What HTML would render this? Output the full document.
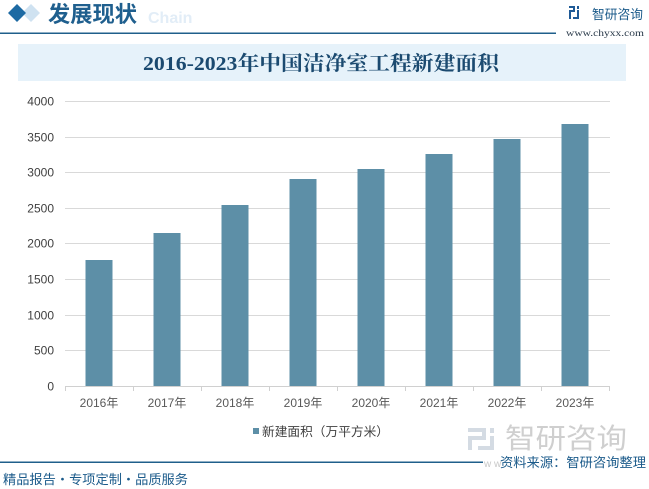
<!DOCTYPE html>
<html><head><meta charset="utf-8"><style>
html,body{margin:0;padding:0;background:#fff;}
svg{display:block;}
</style></head><body>
<svg width="649" height="489" viewBox="0 0 649 489" xmlns="http://www.w3.org/2000/svg">
<rect width="649" height="489" fill="#fff"/>
<!-- header -->
<polygon points="31,4 40,13 31,22 22,13" fill="#cfe2f1"/>
<polygon points="17,4 26,13 17,22 8,13" fill="#1d6aa3"/>
<text x="148" y="23" font-family="Liberation Sans, sans-serif" font-weight="bold" font-size="16" fill="#e2edf7">Chain</text>
<text x="48" y="22" font-family="'Liberation Sans','Noto Sans CJK SC',sans-serif" font-weight="bold" font-size="22" fill="#1f5f8e" textLength="89" lengthAdjust="spacingAndGlyphs">发展现状</text>
<rect x="0" y="32.5" width="556" height="1.5" fill="#1f5f8b"/>
<!-- logo -->
<g fill="#1f5a96">
<rect x="569" y="6" width="6" height="2"/><rect x="573" y="6" width="2" height="6"/><rect x="569" y="10" width="6" height="2"/><rect x="569" y="10" width="2" height="9"/>
<rect x="577" y="6" width="2" height="3"/><rect x="577" y="10" width="2" height="9"/><rect x="573" y="17" width="6" height="2"/>
</g>
<text x="592" y="19" font-family="'Liberation Sans','Noto Sans CJK SC',sans-serif" font-size="13" fill="#1a5a8a" textLength="51" lengthAdjust="spacingAndGlyphs">智研咨询</text>
<text x="566" y="36" font-family="'Liberation Serif',serif" font-size="9" fill="#2a3a4a" textLength="78" lengthAdjust="spacingAndGlyphs">www.chyxx.com</text>
<!-- title box -->
<rect x="18" y="44" width="608" height="37" fill="#e6f2fa"/>
<text x="321" y="70" text-anchor="middle" font-family="'Liberation Serif','Noto Serif CJK SC',serif" font-weight="bold" font-size="20" fill="#1b4a70" textLength="356" lengthAdjust="spacingAndGlyphs">2016-2023年中国洁净室工程新建面积</text>
<!-- gridlines -->
<g stroke="#d9d9d9" stroke-width="1">
<line x1="65" y1="101.5" x2="610" y2="101.5"/>
<line x1="65" y1="137.5" x2="610" y2="137.5"/>
<line x1="65" y1="172.5" x2="610" y2="172.5"/>
<line x1="65" y1="208.5" x2="610" y2="208.5"/>
<line x1="65" y1="243.5" x2="610" y2="243.5"/>
<line x1="65" y1="279.5" x2="610" y2="279.5"/>
<line x1="65" y1="315.5" x2="610" y2="315.5"/>
<line x1="65" y1="350.5" x2="610" y2="350.5"/>
</g>
<!-- bars -->
<g fill="#5d8fa7">
<rect x="85.5" y="260" width="27" height="126"/>
<rect x="153.5" y="233" width="27" height="153"/>
<rect x="221.5" y="205" width="27" height="181"/>
<rect x="289.5" y="179" width="27" height="207"/>
<rect x="357.5" y="169" width="27" height="217"/>
<rect x="425.5" y="154" width="27" height="232"/>
<rect x="493.5" y="139" width="27" height="247"/>
<rect x="561.5" y="124" width="27" height="262"/>
</g>
<!-- axis -->
<g stroke="#d0d0d0" stroke-width="1">
<line x1="65" y1="386.5" x2="610" y2="386.5"/>
<line x1="65.5" y1="386" x2="65.5" y2="391"/>
<line x1="133.5" y1="386" x2="133.5" y2="391"/>
<line x1="201.5" y1="386" x2="201.5" y2="391"/>
<line x1="269.5" y1="386" x2="269.5" y2="391"/>
<line x1="337.5" y1="386" x2="337.5" y2="391"/>
<line x1="405.5" y1="386" x2="405.5" y2="391"/>
<line x1="473.5" y1="386" x2="473.5" y2="391"/>
<line x1="541.5" y1="386" x2="541.5" y2="391"/>
<line x1="609.5" y1="386" x2="609.5" y2="391"/>
</g>
<!-- y labels -->
<g font-family="'Liberation Sans',sans-serif" font-size="12" fill="#404040" text-anchor="end">
<text x="54" y="105.5">4000</text>
<text x="54" y="141.5">3500</text>
<text x="54" y="176.5">3000</text>
<text x="54" y="212.5">2500</text>
<text x="54" y="247.5">2000</text>
<text x="54" y="283.5">1500</text>
<text x="54" y="319.5">1000</text>
<text x="54" y="354.5">500</text>
<text x="54" y="390.5">0</text>
</g>
<!-- x labels -->
<g font-family="'Liberation Sans','Noto Sans CJK SC',sans-serif" font-size="12" fill="#595959" text-anchor="middle">
<text x="99" y="407">2016年</text>
<text x="167" y="407">2017年</text>
<text x="235" y="407">2018年</text>
<text x="303" y="407">2019年</text>
<text x="371" y="407">2020年</text>
<text x="439" y="407">2021年</text>
<text x="507" y="407">2022年</text>
<text x="575" y="407">2023年</text>
</g>
<!-- legend -->
<rect x="253" y="428" width="6" height="6" fill="#5d8fa7"/>
<text x="262" y="436" font-family="'Liberation Sans','Noto Sans CJK SC',sans-serif" font-size="12.5" fill="#404040" textLength="127" lengthAdjust="spacingAndGlyphs">新建面积（万平方米）</text>
<!-- bottom watermark logo -->
<g fill="#d4dbe3">
<rect x="468" y="428" width="18" height="4"/><rect x="482" y="428" width="4" height="12"/><rect x="468" y="436" width="18" height="4"/><rect x="468" y="436" width="4" height="14"/>
<rect x="490" y="428" width="4" height="5"/><rect x="490" y="436" width="4" height="14"/><rect x="478" y="446" width="16" height="4"/>
</g>
<text x="505" y="448" font-family="'Liberation Sans','Noto Sans CJK SC',sans-serif" font-size="28" fill="#cfcfcf" textLength="122" lengthAdjust="spacingAndGlyphs">智研咨询</text>
<!-- bottom line & source -->
<rect x="0" y="461.5" width="483" height="1.5" fill="#1f5f8b"/>
<text x="484" y="467" font-family="'Liberation Sans',sans-serif" font-size="10" fill="#c8c8c8">w w</text>
<text x="500" y="467" font-family="'Liberation Sans','Noto Sans CJK SC',sans-serif" font-size="13" fill="#1a5a8a" textLength="146" lengthAdjust="spacingAndGlyphs">资料来源：智研咨询整理</text>
<text x="3" y="484" font-family="'Liberation Sans','Noto Sans CJK SC',sans-serif" font-size="13" fill="#1a5a8a" textLength="185" lengthAdjust="spacingAndGlyphs">精品报告・专项定制・品质服务</text>
</svg>
</body></html>
